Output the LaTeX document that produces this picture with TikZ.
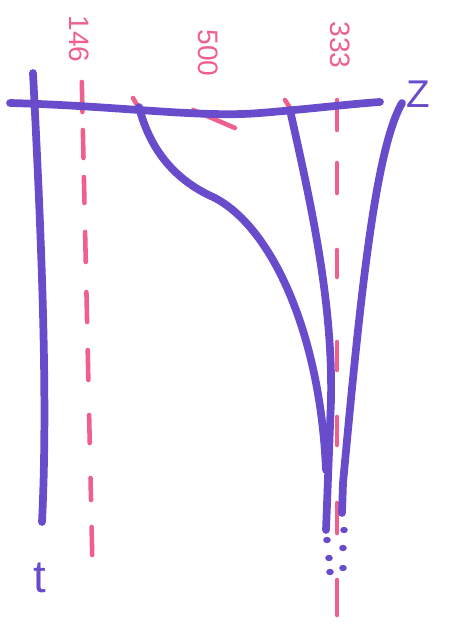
\documentclass[tikz,border=0pt]{standalone}
\usepackage{fontspec}
\setsansfont{Liberation Sans}
\definecolor{ink}{RGB}{104,76,204}
\definecolor{marker}{RGB}{240,96,140}

\begin{document}
\begin{tikzpicture}[
  x=0.02cm,
  y=-0.02cm,
  pen/.style={draw=ink, line width=4.4pt, line cap=round, line join=round},
  guide/.style={draw=marker, line width=2.6pt, line cap=round},
  dotmark/.style={fill=ink, draw=none},
  ticklabel/.style={
    font=\sffamily\fontsize{16}{16}\selectfont,
    text=marker,
    rotate=-90,
    inner sep=0pt
  },
  axislabel/.style={
    font=\sffamily\fontsize{22}{22}\selectfont,
    text=ink,
    inner sep=0pt
  }
]
  \useasboundingbox (0,0) rectangle (466,624);

  % pink guides
  \foreach \a/\b in {82/112, 130/158, 177/203, 232/262, 292/322,
                     350/380, 415/443, 478/500, 527/555}
    \draw[guide] ({80+0.022*\a},\a) -- ({80+0.022*\b},\b);
  \foreach \a/\b in {100/130, 163/193, 250/277, 342/370,
                     417/445, 503/533, 580/615}
    \draw[guide] (337,\a) -- (337,\b);
  \draw[guide] (193,110) -- (235,128);
  \draw[guide] (133,98) -- (137,105);
  \draw[guide] (285,100) -- (290,108);

  \node[ticklabel] (lquarter) at (79,39) {146};
  \node[ticklabel] (lhalf) at (208,53) {500};
  \node[ticklabel] (lthird) at (340,45) {333};

  % axes
  \draw[pen] (10,103) .. controls (120,106) and (200,118) .. (260,113)
    .. controls (310,109) and (350,104) .. (380,102);
  \draw[pen] (33,73) .. controls (42,250) and (48,400) .. (42,522);

  \node[axislabel] (zlabel) at (418,94) {Z};
  \node[axislabel, font=\sffamily\fontsize{26}{26}\selectfont] (tlabel) at (40,578) {t};

  % curves
  \draw[pen] (139,107) .. controls (150,150) and (175,180) .. (213,197)
    .. controls (270,225) and (320,330) .. (326,470);
  \draw[pen] (290,110) .. controls (310,200) and (333,300) .. (331,400)
    -- (326,530);
  \draw[pen] (402,103) .. controls (375,150) and (360,300) .. (343,483)
    -- (342,513);

  % trailing dots
  \foreach \px/\py in {344/530, 327/540, 343/548, 329/558, 330/572, 343/568}
    \fill[dotmark] (\px,\py) ellipse [x radius=3.8, y radius=3.2];
\end{tikzpicture}
\end{document}
